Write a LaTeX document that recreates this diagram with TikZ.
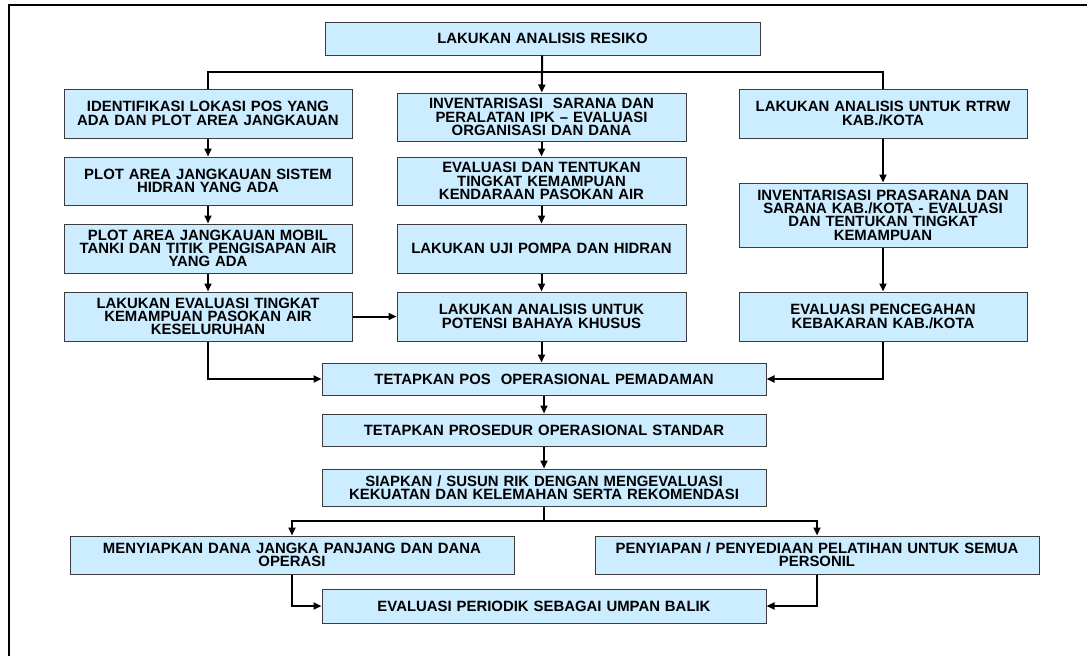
\documentclass[tikz,border=0pt]{standalone}
\usepackage{fontspec}
\setmainfont{Liberation Sans}
\usetikzlibrary{arrows.meta}
\definecolor{birumuda}{RGB}{204,236,255}
\definecolor{garis}{RGB}{60,60,60}

\begin{document}
\begin{tikzpicture}[x=1pt,y=-1pt,>={Triangle[length=8pt,width=7pt]},
	kotak/.style={rectangle, draw=garis, fill=birumuda, line width=1pt, inner sep=2pt, align=center, font=\bfseries\fontsize{14.9}{13.3}\selectfont},
	panah/.style={line width=2pt}]
	\useasboundingbox (0,0) rectangle (1087,656);
	\draw[line width=2.5pt] (1087,5) -- (9,5) -- (9,656);

	\node (resiko)		at (542.5,38.5) [kotak, text width=431pt, minimum height=33pt] {LAKUKAN ANALISIS RESIKO};

	\node (kiri1)		at (208,113.5) [kotak, text width=284pt, minimum height=49pt] {IDENTIFIKASI LOKASI POS YANG\\ADA DAN PLOT AREA JANGKAUAN};
	\node (kiri2)		at (208,181) [kotak, text width=284pt, minimum height=48pt] {PLOT AREA JANGKAUAN SISTEM\\HIDRAN YANG ADA};
	\node (kiri3)		at (208,248.5) [kotak, text width=284pt, minimum height=49pt] {PLOT AREA JANGKAUAN MOBIL\\TANKI DAN TITIK PENGISAPAN AIR\\YANG ADA};
	\node (kiri4)		at (208,316.5) [kotak, text width=284pt, minimum height=49pt] {LAKUKAN EVALUASI TINGKAT\\KEMAMPUAN PASOKAN AIR\\KESELURUHAN};

	\node (tengah1)		at (541.5,117) [kotak, text width=285pt, minimum height=48pt] {INVENTARISASI\ \ SARANA DAN\\PERALATAN IPK -- EVALUASI\\ORGANISASI DAN DANA};
	\node (tengah2)		at (541.5,181) [kotak, text width=285pt, minimum height=48pt] {EVALUASI DAN TENTUKAN\\TINGKAT KEMAMPUAN\\KENDARAAN PASOKAN AIR};
	\node (tengah3)		at (541.5,248.5) [kotak, text width=285pt, minimum height=49pt] {LAKUKAN UJI POMPA DAN HIDRAN};
	\node (tengah4)		at (541.5,316.5) [kotak, text width=285pt, minimum height=49pt] {LAKUKAN ANALISIS UNTUK\\POTENSI BAHAYA KHUSUS};

	\node (kanan1)		at (883,113.5) [kotak, text width=284pt, minimum height=49pt] {LAKUKAN ANALISIS UNTUK RTRW\\KAB./KOTA};
	\node (kanan2)		at (883,215) [kotak, text width=284pt, minimum height=64pt] {INVENTARISASI PRASARANA DAN\\SARANA KAB./KOTA - EVALUASI\\DAN TENTUKAN TINGKAT\\KEMAMPUAN};
	\node (kanan3)		at (883,316.5) [kotak, text width=284pt, minimum height=49pt] {EVALUASI PENCEGAHAN\\KEBAKARAN KAB./KOTA};

	\node (pos)			at (544,379) [kotak, text width=440pt, minimum height=32pt] {TETAPKAN POS\ \ OPERASIONAL PEMADAMAN};
	\node (prosedur)	at (544,430) [kotak, text width=440pt, minimum height=32pt] {TETAPKAN PROSEDUR OPERASIONAL STANDAR};
	\node (rik)			at (544,487.5) [kotak, text width=440pt, minimum height=37pt] {SIAPKAN / SUSUN RIK DENGAN MENGEVALUASI\\KEKUATAN DAN KELEMAHAN SERTA REKOMENDASI};

	\node (dana)		at (292,555) [kotak, text width=440pt, minimum height=38pt] {MENYIAPKAN DANA JANGKA PANJANG DAN DANA\\OPERASI};
	\node (pelatihan)	at (817,555) [kotak, text width=440pt, minimum height=38pt] {PENYIAPAN / PENYEDIAAN PELATIHAN UNTUK SEMUA\\PERSONIL};
	\node (evaluasi)	at (544,606) [kotak, text width=440pt, minimum height=34pt] {EVALUASI PERIODIK SEBAGAI UMPAN BALIK};

	\coordinate (cabang)	at (542,72);
	\coordinate (cabang2)	at (544,521);

	\draw[panah] (kiri1.north) -- (kiri1.north |- cabang) -| (kanan1.north);
	\draw[panah] (resiko) -- (cabang);
	\draw[->,panah] (cabang) -- (tengah1);

	\path (kiri1)		edge[->,panah] (kiri2)
		(kiri2)			edge[->,panah] (kiri3)
		(kiri3)			edge[->,panah] (kiri4)
		(tengah1)		edge[->,panah] (tengah2)
		(tengah2)		edge[->,panah] (tengah3)
		(tengah3)		edge[->,panah] (tengah4)
		(kanan1)		edge[->,panah] (kanan2)
		(kanan2)		edge[->,panah] (kanan3)
		(kiri4)			edge[->,panah] (tengah4)
		(tengah4)		edge[->,panah] (tengah4 |- pos.north)
		(pos)			edge[->,panah] (prosedur)
		(prosedur)		edge[->,panah] (rik);

	\draw[->,panah] (kiri4.south) |- (pos.west);
	\draw[->,panah] (kanan3.south) |- (pos.east);
	\draw[panah] (rik) -- (cabang2);
	\draw[->,panah] (cabang2) -| (dana.north);
	\draw[->,panah] (cabang2) -| (pelatihan.north);
	\draw[->,panah] (dana.south) |- (evaluasi.west);
	\draw[->,panah] (pelatihan.south) |- (evaluasi.east);
\end{tikzpicture}
\end{document}
